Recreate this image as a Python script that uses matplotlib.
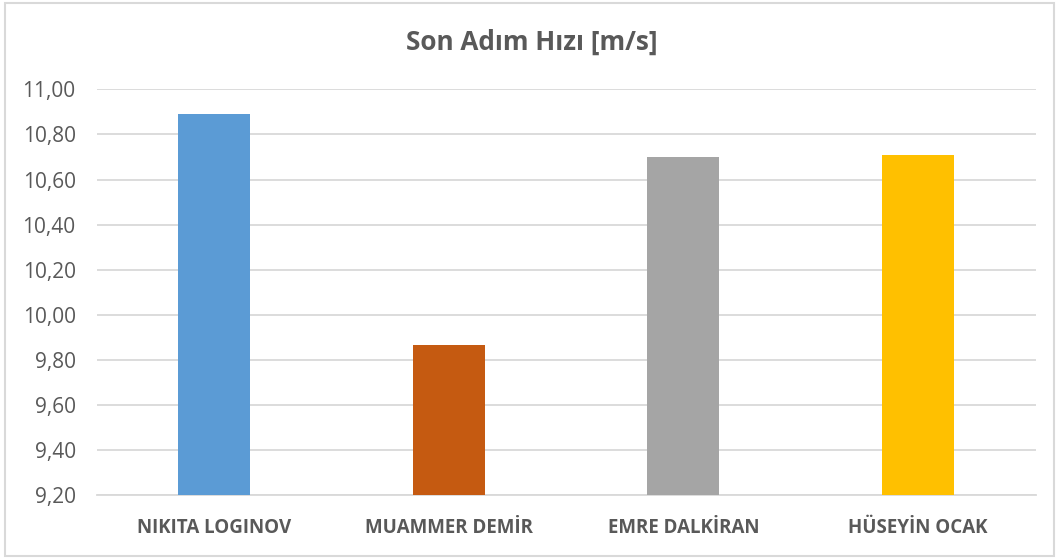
import matplotlib.pyplot as plt
from matplotlib.patches import Rectangle
from matplotlib.ticker import FuncFormatter, MultipleLocator

# data
athletes = ["NIKITA LOGINOV", "MUAMMER DEMİR", "EMRE DALKİRAN", "HÜSEYİN OCAK"]
speeds = [10.89, 9.865, 10.70, 10.71]
bar_colors = ["#5B9BD5", "#C55A11", "#A5A5A5", "#FFC000"]

plt.rcParams['font.family'] = ['Open Sans', 'DejaVu Sans']
text_color = "#595959"
grid_color = "#D9D9D9"

fig = plt.figure(figsize=(10.59, 5.58), dpi=100)
ax = fig.add_axes([96.5 / 1059, 1 - 495.3 / 558, (1035.5 - 96.5) / 1059, (495.3 - 89.3) / 558])

x = range(len(athletes))
ax.bar(x, speeds, width=0.307, color=bar_colors, zorder=3)

ax.set_ylim(9.2, 11.0)
ax.set_xlim(-0.5, len(athletes) - 0.5)
ax.yaxis.set_major_locator(MultipleLocator(0.2))
ax.yaxis.set_major_formatter(FuncFormatter(lambda v, p: f"{v:.2f}".replace('.', ',')))
ax.grid(axis='y', color=grid_color, linewidth=1.3, zorder=0)

ax.set_xticks(list(x))
ax.set_xticklabels(athletes, fontsize=13.5, fontweight='bold', color=text_color)
ax.tick_params(axis='y', labelsize=15, labelcolor=text_color, length=0, pad=15)
ax.tick_params(axis='x', length=0, pad=16)

for side in ['top', 'right', 'left']:
    ax.spines[side].set_visible(False)
ax.spines['bottom'].set_color(grid_color)
ax.spines['bottom'].set_linewidth(1.3)

fig.text(532 / 1059, 1 - 42 / 558, "Son Adım Hızı [m/s]", ha='center', va='center',
         fontsize=18.8, fontweight='bold', color=text_color)

# outer chart border
fig.patches.append(Rectangle((5 / 1059, 2 / 558), 1049 / 1059, 553 / 558, transform=fig.transFigure,
                             fill=False, edgecolor=grid_color, linewidth=1.5))

fig.savefig("out.png", dpi=100)
